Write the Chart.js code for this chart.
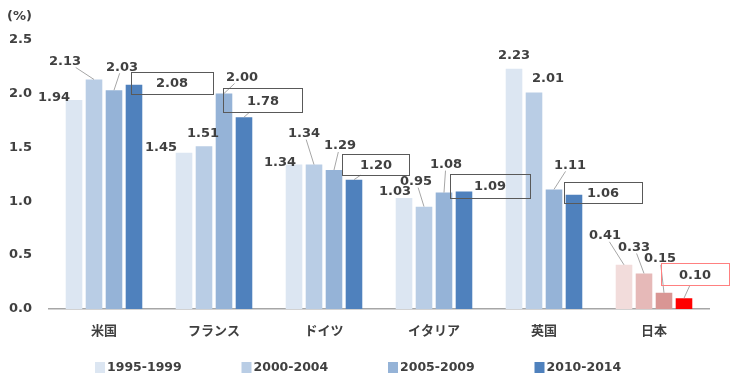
<!DOCTYPE html>
<html>
<head>
<meta charset="utf-8">
<script src="https://cdn.jsdelivr.net/npm/chart.js@4.4.1/dist/chart.umd.min.js"></script>
<style>
  body { margin: 0; background: #fff; }
  canvas { display: block; }
</style>
</head>
<body>
<canvas id="chart" width="740" height="385"></canvas>
<script>
const categories = ["米国", "フランス", "ドイツ", "イタリア", "英国", "日本"];
const periods = ["1995-1999", "2000-2004", "2005-2009", "2010-2014"];
const values1995 = [1.94, 1.45, 1.34, 1.03, 2.23, 0.41];
const values2000 = [2.13, 1.51, 1.34, 0.95, 2.01, 0.33];
const values2005 = [2.03, 2.00, 1.29, 1.08, 1.11, 0.15];
const values2010 = [2.08, 1.78, 1.20, 1.09, 1.06, 0.10];
const yTicks = [0, 0.5, 1.0, 1.5, 2.0, 2.5];

const blues = ["#DCE6F2", "#B9CDE5", "#95B3D7", "#4F81BD"];
const reds = ["#F2DCDB", "#E6B9B8", "#D99694", "#FF0000"];
const textColor = "#404040";

// where each value label sits, relative to the top of its bar: [dx, dy, leader line?]
const labelPos = [
  [[-20, -3, 0], [-23, -6, 0], [-14, -3, 0], [-9, -7, 0], [0, -14, 0], [-19, -30, 1]],
  [[-29, -19, 1], [-1, -14, 0], [-10, -32, 1], [-8, -26, 1], [14, -15, 0], [-10, -27, 1]],
  [[8, -24, 1], [18, -17, 1], [6, -25, 1], [2, -29, 1], [16, -25, 1], [-4, -35, 1]],
  [[38, -2, 1], [19, -17, 1], [22, -15, 1], [26, -6, 1], [29, -2, 1], [11, -24, 1]],
];
// frames round the 2010-2014 labels
const boxSize = [[82, 22], [79, 24], [67, 21], [80, 24], [78, 21], [68, 22]];

const allValues = [values1995, values2000, values2005, values2010];

const datasets = periods.map((p, i) => ({
  label: p,
  data: allValues[i],
  backgroundColor: categories.map(c => c === "日本" ? reds[i] : blues[i]),
  legendColor: blues[i],
  borderWidth: 0,
  categoryPercentage: 0.727,
  barPercentage: 0.83,
}));

const labelPlugin = {
  id: "barLabels",
  afterDatasetsDraw(chart) {
    const ctx = chart.ctx;
    ctx.save();
    ctx.font = 'bold 13px "DejaVu Sans"';
    ctx.textAlign = "center";
    ctx.textBaseline = "middle";
    chart.data.datasets.forEach((ds, i) => {
      const meta = chart.getDatasetMeta(i);
      meta.data.forEach((bar, j) => {
        const [dx, dy, leader] = labelPos[i][j];
        const cx = bar.x + dx, cy = bar.y + dy;
        const text = ds.data[j].toFixed(2);
        const boxed = i === 3;
        const hw = boxed ? boxSize[j][0] / 2 : ctx.measureText(text).width / 2 + 1;
        const hh = boxed ? boxSize[j][1] / 2 : 7;
        if (leader) {
          const ddx = bar.x - cx, ddy = bar.y - cy;
          const t = Math.min(ddx ? hw / Math.abs(ddx) : Infinity, ddy ? hh / Math.abs(ddy) : Infinity);
          if (t < 1) {
            ctx.strokeStyle = "#A6A6A6";
            ctx.lineWidth = 1;
            ctx.beginPath();
            ctx.moveTo(cx + ddx * t, cy + ddy * t);
            ctx.lineTo(bar.x, bar.y);
            ctx.stroke();
          }
        }
        if (boxed) {
          ctx.strokeStyle = categories[j] === "日本" ? "#FF8080" : "#595959";
          ctx.lineWidth = 1;
          ctx.strokeRect(Math.round(cx - hw) + 0.5, Math.round(cy - hh) + 0.5, hw * 2, hh * 2);
        }
        ctx.fillStyle = textColor;
        ctx.fillText(text, cx, cy + 1);
      });
    });

    // legend along the bottom
    ctx.textAlign = "left";
    ctx.font = 'bold 12.5px "DejaVu Sans"';
    const y = 367;
    chart.data.datasets.forEach((ds, i) => {
      const x = 95 + i * 146.5;
      ctx.fillStyle = ds.legendColor;
      ctx.fillRect(x, y - 5, 10, 11);
      ctx.fillStyle = textColor;
      ctx.fillText(ds.label, x + 12, y + 1);
    });
    ctx.restore();
  }
};

new Chart(document.getElementById("chart"), {
  type: "bar",
  data: { labels: categories, datasets: datasets },
  options: {
    responsive: false,
    animation: false,
    layout: { padding: { left: 7, right: 31, bottom: 46 } },
    plugins: {
      legend: { display: false },
      tooltip: { enabled: false },
      title: {
        display: true,
        text: "(%)",
        align: "start",
        color: textColor,
        font: { family: "DejaVu Sans", size: 13, weight: "bold" },
        padding: { top: 9, bottom: 15 },
      },
    },
    scales: {
      x: {
        grid: { display: false, drawTicks: false },
        border: { display: true, color: "#A6A6A6", width: 1.5 },
        ticks: {
          color: textColor,
          padding: 13,
          font: { family: "Noto Sans CJK JP", size: 13, weight: "bold" },
        },
        afterFit: axis => { axis.height = 30; },
      },
      y: {
        min: 0,
        max: 2.5,
        afterBuildTicks: axis => { axis.ticks = yTicks.map(v => ({ value: v })); },
        grid: { display: false, drawTicks: false },
        border: { display: false },
        ticks: {
          color: textColor,
          padding: 17,
          font: { family: "DejaVu Sans", size: 13, weight: "bold" },
          callback: v => v.toFixed(1),
        },
        afterFit: axis => { axis.width = 42; },
      },
    },
  },
  plugins: [labelPlugin],
});
</script>
</body>
</html>
